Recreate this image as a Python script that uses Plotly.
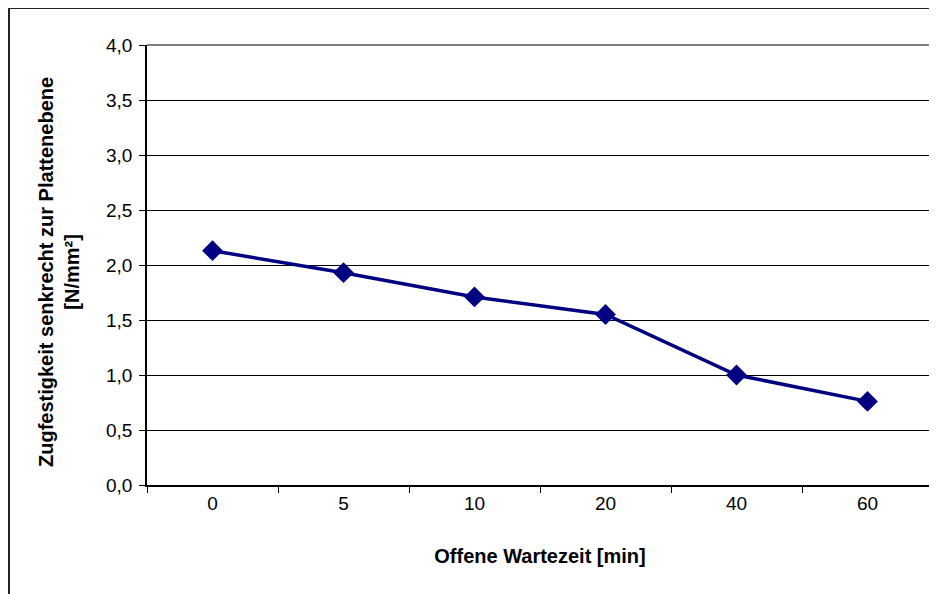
import plotly.graph_objs as go

# Offene Wartezeit [min] -> Zugfestigkeit [N/mm²]
wartezeit = ["0", "5", "10", "20", "40", "60"]
zugfestigkeit = [2.13, 1.93, 1.71, 1.55, 1.00, 0.76]

y_ticks = [0.0, 0.5, 1.0, 1.5, 2.0, 2.5, 3.0, 3.5, 4.0]

# page body has an 8px margin, so the figure sits at (8, 8) in the window
OFF = 8
W, H = 937 - OFF, 594 - OFF
L, R, T, B = 147 - OFF, 937 - 933, 45 - OFF, 594 - 485
pw = W - L - R
ph = H - T - B


def px_x(x):
    # page pixel -> paper coordinate
    return (x - OFF - L) / pw


def px_y(y):
    return (H - B - (y - OFF)) / ph


fig = go.Figure()
fig.add_trace(
    go.Scatter(
        x=wartezeit,
        y=zugfestigkeit,
        mode="lines+markers",
        line=dict(color="#000080", width=3.5),
        marker=dict(symbol="diamond", size=16, color="#000080"),
        cliponaxis=False,
    )
)

fig.update_layout(
    width=W,
    height=H,
    margin=dict(l=L, r=R, t=T, b=B),
    paper_bgcolor="white",
    plot_bgcolor="white",
    showlegend=False,
    separators=",.",
    font=dict(family="Liberation Sans, Arial, sans-serif", size=19, color="black"),
)

fig.update_xaxes(
    type="category",
    range=[-0.5, 5.5],
    showline=True,
    linecolor="black",
    linewidth=1.5,
    ticks="outside",
    tickson="boundaries",
    ticklen=6,
    tickcolor="black",
    tickwidth=1,
    showgrid=False,
    ticklabelstandoff=0,
    title=dict(
        text="<b>Offene Wartezeit [min]</b>",
        font=dict(size=20),
        standoff=36,
    ),
)

fig.update_yaxes(
    range=[0, 4.0],
    tickvals=y_ticks,
    tickformat=".1f",
    showline=True,
    linecolor="black",
    linewidth=1.5,
    ticks="outside",
    ticklen=6,
    tickcolor="black",
    showgrid=True,
    gridcolor="black",
    gridwidth=1,
    zeroline=False,
    ticklabelstandoff=3,
)

# y axis title (two lines)
fig.add_annotation(
    text="<b>Zugfestigkeit senkrecht zur Plattenebene<br>[N/mm²]</b>",
    xref="paper",
    yref="paper",
    x=px_x(59),
    y=px_y(272),
    xanchor="center",
    yanchor="middle",
    textangle=-90,
    showarrow=False,
    font=dict(size=20),
)

# plot area border (top and right, gray)
fig.add_shape(type="line", xref="paper", yref="paper", x0=0, x1=1, y0=1, y1=1,
              line=dict(color="#808080", width=2), layer="above")
fig.add_shape(type="line", xref="paper", yref="paper", x0=1, x1=1, y0=0, y1=1,
              line=dict(color="#808080", width=2), layer="above")

# outer chart border
fig.add_shape(type="rect", xref="paper", yref="paper",
              x0=px_x(9), x1=px_x(950), y0=px_y(8), y1=px_y(610),
              line=dict(color="#222222", width=2), layer="above")

fig.write_html("out.html")
